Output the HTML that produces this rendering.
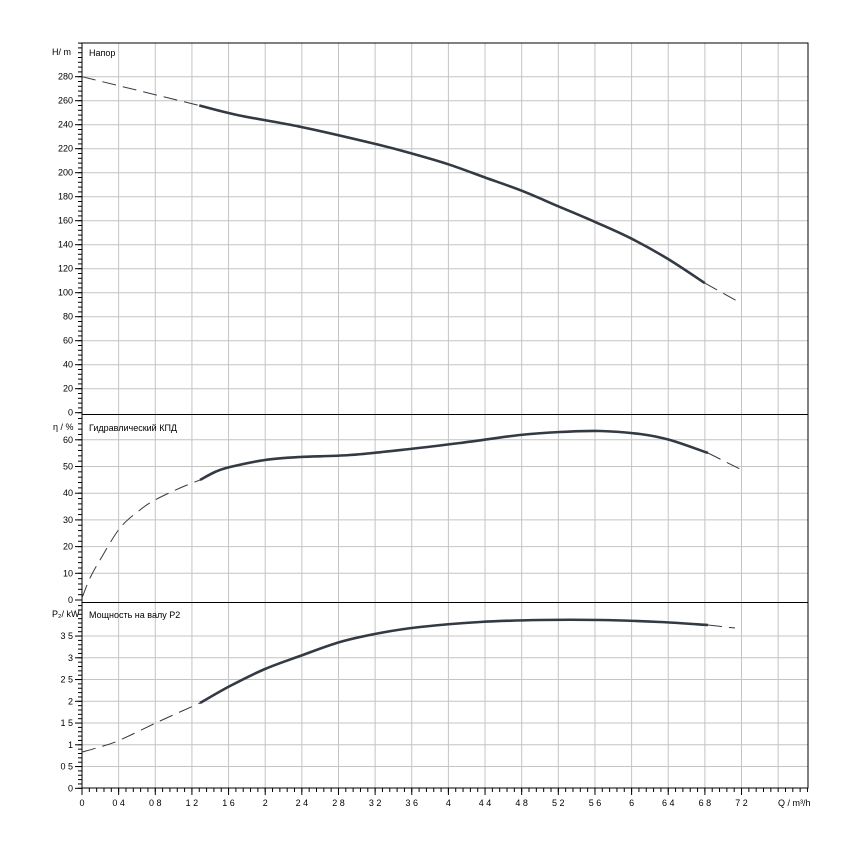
<!DOCTYPE html>
<html><head><meta charset="utf-8"><style>
html,body{margin:0;padding:0;background:#fff;width:850px;height:850px;overflow:hidden}
svg{display:block;font-family:"Liberation Sans",sans-serif;font-size:9px}
</style></head><body>
<svg id="s" width="850" height="850" xmlns="http://www.w3.org/2000/svg"></svg>
<script>
const s=document.getElementById('s');const NS='http://www.w3.org/2000/svg';
function el(t,a,txt){const e=document.createElementNS(NS,t);for(const k in a)e.setAttribute(k,a[k]);if(txt!==undefined)e.textContent=txt;s.appendChild(e);return e;}
const X0=82,XR=808,sx=91.6;const X=q=>X0+q*sx;
const T=43,B=788;
for(let i=1;i<=19;i++){const x=X(i*0.4);if(x<XR)el('line',{x1:x,y1:T,x2:x,y2:B,stroke:'#c4c4c4','stroke-width':1});}
const P=[
 {top:43,bot:414,z:412.7,k:1.2,step:20,minor:4,max:280,fmt:v=>v},
 {top:414,bot:602,z:600,k:2.67,step:10,minor:2,max:60,fmt:v=>v},
 {top:602,bot:788,z:788.3,k:43.5,step:0.5,minor:0.1,max:3.5,fmt:v=>String(v).replace('.',' ')}];
P.forEach(p=>{
 for(let v=p.step;v<=p.max+1e-6;v+=p.step){const y=p.z-v*p.k;el('line',{x1:X0,y1:y,x2:XR,y2:y,stroke:'#c4c4c4'});}
 for(let v=0;p.z-v*p.k>=p.top-0.5;v+=p.minor){const y=p.z-v*p.k;el('line',{x1:X0-4,y1:y,x2:X0,y2:y,stroke:'#000'});}
 for(let v=0;v<=p.max+1e-6;v+=p.step){const y=p.z-v*p.k;el('line',{x1:X0-7,y1:y,x2:X0,y2:y,stroke:'#000'});
  el('text',{x:X0-9,y:y+3,'text-anchor':'end',fill:'#000'},p.fmt(Math.round(v*10)/10));}
});
el('line',{x1:X0,y1:414.5,x2:XR,y2:414.5,stroke:'#000'});
el('line',{x1:X0,y1:602.5,x2:XR,y2:602.5,stroke:'#000'});
el('rect',{x:X0,y:T,width:XR-X0,height:B-T,fill:'none',stroke:'#000'});
for(let i=0;;i++){const x=X(i*0.08);if(x>XR+0.5)break;el('line',{x1:x,y1:B,x2:x,y2:B+4,stroke:'#000'});}
for(let i=0;i<=18;i++){const q=i*0.4;const x=X(q);el('line',{x1:x,y1:B,x2:x,y2:B+7,stroke:'#000'});
 el('text',{x:x,y:B+18,'text-anchor':'middle'},String(Math.round(q*10)/10).replace('.',' '));}
el('text',{x:778,y:806},'Q / m³/h');
el('text',{x:52,y:55},'H/ m');el('text',{x:89,y:56},'Напор');
el('text',{x:53,y:430},'η / %');el('text',{x:89,y:431},'Гидравлический КПД');
el('text',{x:52,y:617},'P₂/ kW');el('text',{x:89,y:618},'Мощность на валу P2');
function path(p){let d='M'+p[0][0]+','+p[0][1];
 for(let i=0;i<p.length-1;i++){const p0=p[i-1]||p[i],p1=p[i],p2=p[i+1],p3=p[i+2]||p2;
  d+=' C'+(p1[0]+(p2[0]-p0[0])/6)+','+(p1[1]+(p2[1]-p0[1])/6)+' '+(p2[0]-(p3[0]-p1[0])/6)+','+(p2[1]-(p3[1]-p1[1])/6)+' '+p2[0]+','+p2[1];}
 return d;}
function curve(d1,sol,d2){
 el('path',{d:path(d1),fill:'none',stroke:'#333a44','stroke-width':1,'stroke-dasharray':'14,7'});
 el('path',{d:path(sol),fill:'none',stroke:'#333a44','stroke-width':2.6,'stroke-linejoin':'round'});
 el('path',{d:path(d2),fill:'none',stroke:'#333a44','stroke-width':1,'stroke-dasharray':'14,7'});
}
const H=[[0,280],[1.28,256]].map(([q,h])=>[X(q),412.7-h*1.2]);
const Hs=[[1.28,256],[1.7,248],[2.4,238],[3.2,224],[3.6,216],[4.0,207],[4.4,196],[4.8,185],[5.2,172],[5.6,159],[6.0,145],[6.4,128],[6.8,108]].map(([q,h])=>[X(q),412.7-h*1.2]);
const H2=[[6.8,108],[7.2,91]].map(([q,h])=>[X(q),412.7-h*1.2]);
curve(H,Hs,H2);
curve([[82,598],[90,578],[100,560],[120,528],[140,510],[155,500],[180,488],[200,480]],
 [[200,480],[215,472],[230,467],[265,460],[300,457],[350,455],[410,449],[460,443],[520,435],[560,432],[600,431],[640,434],[670,440],[708,453]],
 [[708,453],[742,470]]);
curve([[82,752],[100,747],[120,740],[160,721],[200,703]],
 [[200,703],[230,686],[265,669],[300,656],[340,642],[380,633],[420,627],[480,622],[540,620],[600,620],[660,622],[708,625]],
 [[708,625],[735,628]]);
</script>
</body></html>
